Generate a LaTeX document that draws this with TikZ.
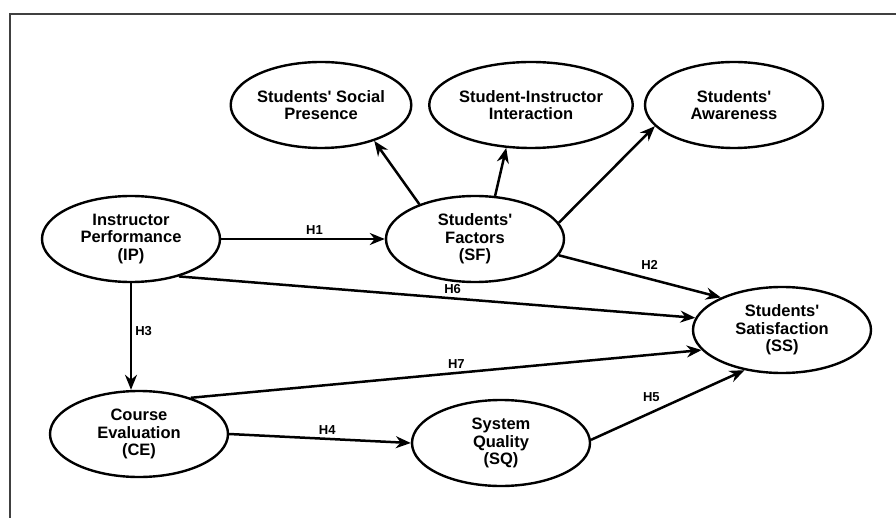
\documentclass[tikz,border=0pt]{standalone}
\usepackage{fontspec}
\setmainfont{Liberation Sans}
\usetikzlibrary{positioning, arrows.meta, calc, shapes.geometric}

\begin{document}
\begin{tikzpicture}[
    x=1pt, y=-1pt,
    >={Stealth[length=15pt, width=12pt]},
    construct/.style={
        ellipse, draw=black, line width=2.4pt, fill=white,
        minimum width=178pt, minimum height=86pt, inner sep=0pt, align=center,
        font=\fontsize{16.5}{17.5}\selectfont\bfseries
    },
    hyp/.style={font=\fontsize{13}{15}\selectfont\bfseries, inner sep=3pt},
    arr/.style={line width=2.5pt, black, ->},
    frame/.style={line width=1.3pt, black!75},
]
\useasboundingbox (0,0) rectangle (896,518);

% Frame
\draw[frame] (10,518) -- (10,14) -- (896,14);

% Top row: sub-dimensions
\node[construct] (ssp) at (321,105) {Students\textquotesingle{} Social\\Presence};
\node[construct] (sii) at (531,105) {Student-Instructor\\Interaction};
\node[construct] (sa)  at (734,105) {Students\textquotesingle\\Awareness};

% Middle rows
\node[construct] (ip) at (131,239) {Instructor\\Performance\\(IP)};
\node[construct] (sf) at (475,239) {Students\textquotesingle\\Factors\\(SF)};
\node[construct] (ss) at (782,330) {Students\textquotesingle\\Satisfaction\\(SS)};

% Bottom row
\node[construct] (ce) at (139,434) {Course\\Evaluation\\(CE)};
\node[construct] (sq) at (501,443) {System\\Quality\\(SQ)};

% SF to its dimensions
\draw[arr] (sf.148) -- (ssp.-34);
\draw[arr] (sf.65) -- (sii.240);
\draw[arr] (sf.11) -- (sa.195);

% Hypotheses
\draw[arr] (ip.east) -- node[hyp, pos=0.57, above] (h1) {H1} (sf.west);
\draw[arr] (sf.-11) -- node[hyp, pos=0.56, above=5pt] (h2) {H2} (ss.152);
\draw[arr] (ip.south) -- node[hyp, pos=0.45, right] (h3) {H3} (ip.south |- ce.north);
\draw[arr] (ce.east) -- node[hyp, pos=0.54, above] (h4) {H4} (sq.west);
\draw[arr] (sq.2) -- node[hyp, pos=0.48, above left=1pt] (h5) {H5} (ss.227);
\draw[arr] (ip.-38) -- node[hyp, pos=0.53, above] (h6) {H6} (ss.172);
\draw[arr] (ce.35) -- node[hyp, pos=0.52, above] (h7) {H7} (ss.194);

\end{tikzpicture}
\end{document}
